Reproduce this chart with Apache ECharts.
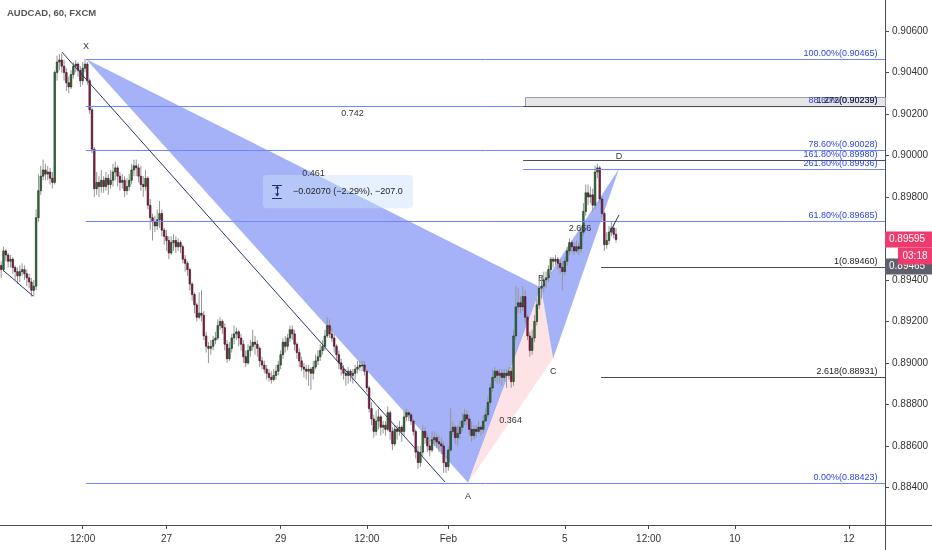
<!DOCTYPE html>
<html>
<head>
<meta charset="utf-8">
<script src="https://cdn.jsdelivr.net/npm/echarts@6/dist/echarts.min.js"></script>
<style>
  html, body { margin: 0; padding: 0; background: #fff; }
  #chart { width: 932px; height: 550px; }
</style>
</head>
<body>
<div id="chart"></div>
<script>
// AUDCAD 60 min candles, [open, close, low, high]
const candles = [
  [0.8947,0.8945,0.8941,0.8949],[0.8945,0.8954,0.8944,0.8956],[0.8954,0.8952,0.8949,0.8955],[0.8952,0.8949,0.8946,0.8953],
  [0.8949,0.8950,0.8946,0.8952],[0.8950,0.8946,0.8943,0.8951],[0.8946,0.8944,0.8940,0.8947],[0.8944,0.8942,0.8938,0.8946],
  [0.8942,0.8944,0.8939,0.8947],[0.8944,0.8945,0.8942,0.8948],[0.8945,0.8943,0.8940,0.8947],[0.8943,0.8941,0.8937,0.8945],
  [0.8941,0.8939,0.8936,0.8943],[0.8939,0.8935,0.8932,0.8941],[0.8935,0.8937,0.8932,0.8940],[0.8937,0.8970,0.8935,0.8974],
  [0.8970,0.8983,0.8968,0.8991],[0.8983,0.8990,0.8981,0.8995],[0.8990,0.8993,0.8988,0.8998],[0.8993,0.8991,0.8988,0.8996],
  [0.8991,0.8992,0.8988,0.8995],[0.8992,0.8989,0.8986,0.8994],[0.8989,0.8987,0.8984,0.8992],[0.8987,0.9040,0.8986,0.9041],
  [0.9040,0.9045,0.9036,0.9048],[0.9045,0.9046,0.9041,0.9049],[0.9046,0.9043,0.9040,0.9049],[0.9043,0.9040,0.9036,0.9046],
  [0.9040,0.9035,0.9031,0.9042],[0.9035,0.9033,0.9030,0.9038],[0.9033,0.9039,0.9032,0.9041],[0.9039,0.9043,0.9037,0.9045],
  [0.9043,0.9044,0.9040,0.9046],[0.9044,0.9041,0.9038,0.9045],[0.9041,0.9036,0.9033,0.9043],[0.9036,0.9042,0.9034,0.9045],
  [0.9042,0.9044,0.9040,0.90465],[0.9044,0.9036,0.9034,0.9045],[0.9036,0.9022,0.9020,0.9037],[0.9022,0.9003,0.9001,0.9023],
  [0.9003,0.8984,0.8980,0.9004],[0.8984,0.8987,0.8981,0.8992],[0.8987,0.8985,0.8980,0.8990],[0.8985,0.8988,0.8982,0.8993],
  [0.8988,0.8985,0.8982,0.8990],[0.8985,0.8989,0.8983,0.8992],[0.8989,0.8986,0.8981,0.8991],[0.8986,0.8988,0.8984,0.8993],
  [0.8988,0.8992,0.8985,0.8996],[0.8992,0.8994,0.8988,0.8997],[0.8994,0.8990,0.8985,0.8995],[0.8990,0.8987,0.8983,0.8992],
  [0.8987,0.8988,0.8984,0.8991],[0.8988,0.8983,0.8980,0.8990],[0.8983,0.8985,0.8981,0.8989],[0.8985,0.8988,0.8983,0.8991],
  [0.8988,0.8993,0.8986,0.8996],[0.8993,0.8995,0.8990,0.8998],[0.8995,0.8994,0.8990,0.8998],[0.8994,0.8990,0.8987,0.8996],
  [0.8990,0.8986,0.8983,0.8995],[0.8986,0.8985,0.8980,0.8990],[0.8985,0.8989,0.8983,0.8993],[0.8989,0.8976,0.8974,0.8990],
  [0.8976,0.8970,0.8964,0.8979],[0.8970,0.8968,0.8959,0.8972],[0.8968,0.8966,0.8963,0.8971],[0.8966,0.8969,0.8964,0.8974],
  [0.8969,0.8972,0.8965,0.8978],[0.8972,0.8964,0.8961,0.8974],[0.8964,0.8961,0.8957,0.8965],[0.8961,0.8959,0.8954,0.8964],
  [0.8959,0.8953,0.8950,0.8961],[0.8953,0.8958,0.8952,0.8961],[0.8958,0.8959,0.8954,0.8962],[0.8959,0.8956,0.8953,0.8961],
  [0.8956,0.8958,0.8954,0.8960],[0.8958,0.8956,0.8953,0.8959],[0.8956,0.8950,0.8948,0.8957],[0.8950,0.8948,0.8944,0.8952],
  [0.8948,0.8945,0.8942,0.8949],[0.8945,0.8938,0.8935,0.8946],[0.8938,0.8933,0.8930,0.8939],[0.8933,0.8928,0.8924,0.8934],
  [0.8928,0.8922,0.8920,0.8929],[0.8922,0.8924,0.8921,0.8934],[0.8924,0.8923,0.8920,0.8935],[0.8923,0.8913,0.8911,0.8925],
  [0.8913,0.8908,0.8905,0.8915],[0.8908,0.8907,0.8900,0.8910],[0.8907,0.8908,0.8904,0.8911],[0.8908,0.8911,0.8906,0.8913],
  [0.8911,0.8912,0.8909,0.8915],[0.8912,0.8918,0.8911,0.8921],[0.8918,0.8920,0.8916,0.8922],[0.8920,0.8917,0.8914,0.8921],
  [0.8917,0.8909,0.8906,0.8919],[0.8909,0.8902,0.8900,0.8911],[0.8902,0.8907,0.8901,0.8910],[0.8907,0.8912,0.8905,0.8914],
  [0.8912,0.8914,0.8909,0.8918],[0.8914,0.8915,0.8911,0.8917],[0.8915,0.8912,0.8908,0.8916],[0.8912,0.8909,0.8906,0.8914],
  [0.8909,0.8903,0.8900,0.8911],[0.8903,0.8900,0.8898,0.8906],[0.8900,0.8906,0.8899,0.8909],[0.8906,0.8908,0.8903,0.8911],
  [0.8908,0.8910,0.8906,0.8916],[0.8910,0.8909,0.8904,0.8913],[0.8909,0.8907,0.8903,0.8911],[0.8907,0.8901,0.8898,0.8908],
  [0.8901,0.8899,0.8897,0.8903],[0.8899,0.8897,0.8895,0.8901],[0.8897,0.8895,0.8892,0.8899],[0.8895,0.8893,0.8891,0.8897],
  [0.8893,0.8892,0.8890,0.8896],[0.8892,0.8894,0.8891,0.8897],[0.8894,0.8896,0.8892,0.8899],[0.8896,0.8899,0.8894,0.8901],
  [0.8899,0.8904,0.8897,0.8906],[0.8904,0.8910,0.8902,0.8912],[0.8910,0.8908,0.8905,0.8913],[0.8908,0.8912,0.8906,0.8914],
  [0.8912,0.8916,0.8910,0.8918],[0.8916,0.8914,0.8911,0.8918],[0.8914,0.8909,0.8906,0.8916],[0.8909,0.8905,0.8902,0.8910],
  [0.8905,0.8901,0.8898,0.8907],[0.8901,0.8898,0.8896,0.8903],[0.8898,0.8897,0.8893,0.8900],[0.8897,0.8896,0.8892,0.8899],
  [0.8896,0.8897,0.8889,0.8899],[0.8897,0.8895,0.8887,0.8898],[0.8895,0.8898,0.8892,0.8901],[0.8898,0.8901,0.8897,0.8904],
  [0.8901,0.8903,0.8899,0.8906],[0.8903,0.8906,0.8901,0.8909],[0.8906,0.8908,0.8904,0.8911],[0.8908,0.8913,0.8906,0.8916],
  [0.8913,0.8918,0.8912,0.8922],[0.8918,0.8914,0.8912,0.8921],[0.8914,0.8912,0.8910,0.8917],[0.8912,0.8908,0.8905,0.8914],
  [0.8908,0.8904,0.8901,0.8909],[0.8904,0.8900,0.8897,0.8906],[0.8900,0.8897,0.8894,0.8902],[0.8897,0.8895,0.8892,0.8899],
  [0.8895,0.8894,0.8889,0.8897],[0.8894,0.8896,0.8890,0.8898],[0.8896,0.8894,0.8891,0.8897],[0.8894,0.8895,0.8890,0.8897],
  [0.8895,0.8897,0.8892,0.8899],[0.8897,0.8898,0.8895,0.8901],[0.8898,0.8899,0.8896,0.8901],[0.8899,0.8899,0.8896,0.8901],
  [0.8899,0.8896,0.8894,0.8901],[0.8896,0.8888,0.8886,0.8897],[0.8888,0.8878,0.8876,0.8889],[0.8878,0.8873,0.8870,0.8881],
  [0.8873,0.8867,0.8864,0.8875],[0.8867,0.8872,0.8865,0.8877],[0.8872,0.8874,0.8868,0.8878],[0.8874,0.8869,0.8865,0.8875],
  [0.8869,0.8870,0.8866,0.8872],[0.8870,0.8868,0.8865,0.8872],[0.8868,0.8876,0.8867,0.8879],[0.8876,0.8867,0.8863,0.8877],
  [0.8867,0.8861,0.8858,0.8869],[0.8861,0.8868,0.8860,0.8870],[0.8868,0.8867,0.8863,0.8870],[0.8867,0.8869,0.8865,0.8872],
  [0.8869,0.8867,0.8862,0.8870],[0.8867,0.8874,0.8865,0.8877],[0.8874,0.8876,0.8872,0.8878],[0.8876,0.8875,0.8872,0.8877],
  [0.8875,0.8872,0.8870,0.8876],[0.8872,0.8867,0.8865,0.8873],[0.8867,0.8857,0.8854,0.8868],[0.8857,0.8852,0.8849,0.8860],
  [0.8852,0.8857,0.8850,0.8860],[0.8857,0.8867,0.8855,0.8870],[0.8867,0.8864,0.8861,0.8869],[0.8864,0.8860,0.8857,0.8866],
  [0.8860,0.8858,0.8855,0.8863],[0.8858,0.8863,0.8857,0.8867],[0.8863,0.8864,0.8860,0.8867],[0.8864,0.8862,0.8859,0.8866],
  [0.8862,0.8861,0.8857,0.8865],[0.8861,0.8860,0.8856,0.8864],[0.8860,0.8852,0.8847,0.8862],[0.8852,0.8850,0.8847,0.8855],
  [0.8850,0.8858,0.8848,0.8860],[0.8858,0.8867,0.8857,0.8878],[0.8867,0.8869,0.8865,0.8872],[0.8869,0.8864,0.8861,0.8870],
  [0.8864,0.8866,0.8860,0.8870],[0.8866,0.8869,0.8863,0.8872],[0.8869,0.8872,0.8867,0.8876],[0.8872,0.8875,0.8870,0.8878],
  [0.8875,0.8873,0.8870,0.8877],[0.8873,0.8868,0.8865,0.8875],[0.8868,0.8865,0.8862,0.8872],[0.8865,0.8868,0.8863,0.8870],
  [0.8868,0.8867,0.8864,0.8870],[0.8867,0.8869,0.8866,0.8872],[0.8869,0.8868,0.8865,0.8870],[0.8868,0.8872,0.8866,0.8875],
  [0.8872,0.8875,0.8872,0.8878],[0.8875,0.8881,0.8873,0.8884],[0.8881,0.8888,0.8879,0.8890],[0.8888,0.8893,0.8886,0.8897],
  [0.8893,0.8896,0.8891,0.8898],[0.8896,0.8894,0.8890,0.8897],[0.8894,0.8895,0.8890,0.8897],[0.8895,0.8893,0.8889,0.8897],
  [0.8893,0.8895,0.8891,0.8897],[0.8895,0.8894,0.8888,0.8897],[0.8894,0.8896,0.8892,0.8898],[0.8896,0.8891,0.8888,0.8898],
  [0.8891,0.8913,0.8889,0.8916],[0.8913,0.8927,0.8911,0.8937],[0.8927,0.8929,0.8924,0.8936],[0.8929,0.8927,0.8924,0.8932],
  [0.8927,0.8932,0.8925,0.8937],[0.8932,0.8922,0.8919,0.8935],[0.8922,0.8913,0.8911,0.8923],[0.8913,0.8906,0.8903,0.8915],
  [0.8906,0.8912,0.8904,0.8916],[0.8912,0.8920,0.8910,0.8923],[0.8920,0.8928,0.8918,0.8931],[0.8928,0.8936,0.8926,0.8940],
  [0.8936,0.8937,0.8931,0.8942],[0.8937,0.8940,0.8934,0.8944],[0.8940,0.8941,0.8936,0.8944],[0.8941,0.8945,0.8939,0.8947],
  [0.8945,0.8950,0.8943,0.8951],[0.8950,0.8949,0.8946,0.8951],[0.8949,0.8950,0.8947,0.8952],[0.8950,0.8948,0.8945,0.8951],
  [0.8948,0.8946,0.8943,0.8950],[0.8946,0.8944,0.8935,0.8949],[0.8944,0.8949,0.8942,0.8951],[0.8949,0.8954,0.8947,0.8956],
  [0.8954,0.8958,0.8952,0.8960],[0.8958,0.8956,0.8953,0.8959],[0.8956,0.8954,0.8952,0.8958],[0.8954,0.8956,0.8953,0.8959],
  [0.8956,0.8955,0.8952,0.8958],[0.8955,0.8963,0.8953,0.8966],[0.8963,0.8973,0.8961,0.8977],[0.8973,0.8982,0.8971,0.8986],
  [0.8982,0.8980,0.8976,0.8986],[0.8980,0.8981,0.8977,0.8985],[0.8981,0.8976,0.8973,0.8984],[0.8976,0.8992,0.8974,0.8995],
  [0.8992,0.8994,0.8989,0.8996],[0.8994,0.8979,0.8977,0.8995],[0.8979,0.8972,0.8968,0.8980],[0.8972,0.8957,0.8954,0.8973],
  [0.8957,0.8959,0.8955,0.8963],[0.8959,0.8963,0.8957,0.8966],[0.8963,0.8965,0.8961,0.8968],[0.8965,0.8962,0.8960,0.8967],
  [0.8962,0.89595,0.8958,0.8965]
];

// time axis: bar slots (incl. empty future area) and labelled slots
const barSlots = 380;
const xTickIdx = [35, 71, 120, 157, 192, 242, 278, 315, 364];
const xTickLabels = ['12:00', '27', '29', '12:00', 'Feb', '5', '12:00', '10', '12'];

// price axis
const yMin = 0.88219;
const yMax = 0.90749;
const yTicks = [0.884, 0.886, 0.888, 0.890, 0.892, 0.894, 0.896, 0.898, 0.900, 0.902, 0.904, 0.906];

// XABCD pattern points (bar index, price)
const patternNames = ['X', 'A', 'B', 'C', 'D'];
const patternIdx = [36.4, 200.5, 231.8, 237.0, 265.3];
const patternPrice = [0.90465, 0.88423, 0.89364, 0.89021, 0.89936];
const ratioPairs = [[0, 4], [0, 2], [1, 3], [2, 4]];
const ratioTexts = ['0.742', '0.461', '0.364', '2.656'];

// horizontal levels (fib retracement XA + extensions)
const levelPrices = [0.90465, 0.90239, 0.90028, 0.89685, 0.88423, 0.90239, 0.89980, 0.89936, 0.89460, 0.88931];
const levelTexts = ['100.00%(0.90465)', '88.60%(0.90239)', '78.60%(0.90028)', '61.80%(0.89685)', '0.00%(0.88423)',
  '1.272(0.90239)', '161.80%(0.89980)', '261.80%(0.89936)', '1(0.89460)', '2.618(0.88931)'];
const levelStart = [36.4, 36.4, 36.4, 36.4, 36.4, 224.1, 224.1, 224.1, 257.6, 257.6];
const zoneBox = [224.9, 0.90283, 0.90239];

// trend lines [idx1, price1, idx2, price2]
const trendLines = [
  [26.1, 0.90498, 190.6, 0.88426],
  [0.8, 0.89447, 13.7, 0.89322],
  [261.4, 0.89631, 265.3, 0.89713]
];

// price range measure
const measureBox = [112.4, 0.89906, 176.8, 0.89746];
const measureText = '\u22120.02070 (\u22122.29%), \u2212207.0';

const lastPrice = 0.89595;
const markPrice = 0.89465;
const countdown = '03:18';

// styles
const FONT = "'Liberation Sans', Arial, sans-serif";
const BLUE_FILL = '#a6b2f8';
const PINK_FILL = '#fde3e5';
const FIB_LINE = '#6e86ff';
const FIB_TEXT = '#2f45e8';
const DARK_LINE = '#4a4d57';
const levelLineColor = [FIB_LINE, FIB_LINE, FIB_LINE, FIB_LINE, FIB_LINE, DARK_LINE, DARK_LINE, FIB_LINE, DARK_LINE, DARK_LINE];
const levelTextColor = [FIB_TEXT, FIB_TEXT, FIB_TEXT, FIB_TEXT, FIB_TEXT, '#222', FIB_TEXT, FIB_TEXT, '#222', '#222'];
const labelRightIdx = 376.3;

const crisp = v => Math.round(v) + 0.5;

function txt(x, y, text, fill, size, align, valign, weight) {
  return {
    type: 'text', x, y,
    style: {
      text, fill, font: (weight || 'normal') + ' ' + size + 'px ' + FONT,
      textAlign: align, textVerticalAlign: valign, align, verticalAlign: valign
    }
  };
}

function renderPattern(params, api) {
  const pts = patternIdx.map((ix, j) => api.coord([ix, patternPrice[j]]));
  const tri = (a, b, c, fill) => ({ type: 'polygon', shape: { points: [pts[a], pts[b], pts[c]] }, style: { fill } });
  const children = [
    tri(0, 1, 2, BLUE_FILL),
    tri(1, 2, 3, PINK_FILL),
    tri(2, 3, 4, BLUE_FILL)
  ];
  const offs = [-12, 14, -9, 13, -12];
  pts.forEach((p, j) => children.push(txt(p[0], p[1] + offs[j], patternNames[j], '#333', 9, 'center', 'middle')));
  return { type: 'group', children };
}

function renderMeasure(params, api) {
  const a = api.coord([measureBox[0], measureBox[1]]);
  const b = api.coord([measureBox[2], measureBox[3]]);
  const midY = (a[1] + b[1]) / 2;
  const ic = api.coord([118.4, measureBox[1]])[0];
  const tx = api.coord([125.3, measureBox[1]])[0];
  const col = '#1f2f7a';
  return {
    type: 'group',
    children: [
      { type: 'rect', shape: { x: a[0], y: a[1], width: b[0] - a[0], height: b[1] - a[1], r: 4 },
        style: { fill: 'rgba(200,225,250,0.45)' } },
      { type: 'line', shape: { x1: ic - 5, y1: crisp(midY - 7), x2: ic + 5, y2: crisp(midY - 7) }, style: { stroke: col, lineWidth: 1 } },
      { type: 'line', shape: { x1: ic - 5, y1: crisp(midY + 6), x2: ic + 5, y2: crisp(midY + 6) }, style: { stroke: col, lineWidth: 1 } },
      { type: 'line', shape: { x1: crisp(ic), y1: midY - 5, x2: crisp(ic), y2: midY + 4 }, style: { stroke: col, lineWidth: 1 } },
      { type: 'polygon', shape: { points: [[ic - 2, midY - 3], [ic + 2.5, midY - 3], [ic + 0.25, midY - 6]] }, style: { fill: col } },
      { type: 'polygon', shape: { points: [[ic - 2, midY + 2], [ic + 2.5, midY + 2], [ic + 0.25, midY + 5]] }, style: { fill: col } },
      txt(tx, midY, measureText, '#222', 9, 'left', 'middle')
    ]
  };
}

function renderCandle(params, api) {
  const i = api.value(0);
  const o = api.coord([i, api.value(1)]);
  const c = api.coord([i, api.value(2)]);
  const l = api.coord([i, api.value(3)]);
  const h = api.coord([i, api.value(4)]);
  const bw = api.size([1, 0])[0] * 0.7;
  const up = api.value(2) >= api.value(1);
  const top = Math.min(o[1], c[1]);
  const hgt = Math.max(Math.abs(o[1] - c[1]), 1);
  return {
    type: 'group',
    children: [
      { type: 'line', shape: { x1: o[0], y1: h[1], x2: o[0], y2: l[1] }, style: { stroke: '#959595', lineWidth: 1 } },
      { type: 'rect', shape: { x: o[0] - bw / 2, y: top, width: bw, height: hgt },
        style: { fill: up ? '#2e7d32' : '#a3154b', stroke: '#111', lineWidth: 0.5 } }
    ]
  };
}

function renderLevels(params, api) {
  const children = [];
  const right = api.coord([barSlots - 0.5, yMin])[0];
  // grey zone box around 1.272
  const z1 = api.coord([zoneBox[0], zoneBox[1]]);
  const z2 = api.coord([zoneBox[0], zoneBox[2]]);
  children.push({ type: 'rect', shape: { x: crisp(z1[0]), y: crisp(z1[1]), width: right - z1[0], height: z2[1] - z1[1] },
    style: { fill: '#e6e6e8', stroke: '#9a9ca3', lineWidth: 1 } });
  levelPrices.forEach((p, k) => {
    const a = api.coord([levelStart[k], p]);
    const y = crisp(a[1]);
    children.push({ type: 'line', shape: { x1: a[0], y1: y, x2: right, y2: y },
      style: { stroke: levelLineColor[k], lineWidth: 1 } });
    const tx = api.coord([labelRightIdx, p])[0];
    children.push(txt(tx, y - 1.5, levelTexts[k], levelTextColor[k], 9, 'right', 'bottom'));
  });
  trendLines.forEach(t => {
    const a = api.coord([t[0], t[1]]);
    const b = api.coord([t[2], t[3]]);
    children.push({ type: 'line', shape: { x1: a[0], y1: a[1], x2: b[0], y2: b[1] },
      style: { stroke: '#2b3766', lineWidth: 1 } });
  });
  ratioPairs.forEach((pr, k) => {
    const ix = (patternIdx[pr[0]] + patternIdx[pr[1]]) / 2;
    const pv = (patternPrice[pr[0]] + patternPrice[pr[1]]) / 2;
    const p = api.coord([ix, pv]);
    children.push(txt(p[0], p[1], ratioTexts[k], '#333', 9, 'center', 'middle'));
  });
  return { type: 'group', children };
}

function renderTags(params, api) {
  const x = api.coord([barSlots - 0.5, yMin])[0];
  const w = 932 - x;
  const ym = api.coord([barSlots - 0.5, markPrice])[1];
  const yl = api.coord([barSlots - 0.5, lastPrice])[1];
  const pink = '#ee3a6c';
  return {
    type: 'group',
    children: [
      { type: 'rect', shape: { x, y: ym - 8, width: w, height: 16 }, style: { fill: '#5e616b' } },
      txt(x + 4, ym, markPrice.toFixed(5), '#fff', 10, 'left', 'middle'),
      { type: 'rect', shape: { x, y: yl - 8, width: w, height: 16 }, style: { fill: pink } },
      txt(x + 4, yl, lastPrice.toFixed(5), '#fff', 10, 'left', 'middle'),
      { type: 'rect', shape: { x: x + 13, y: yl + 8, width: w - 13, height: 17 }, style: { fill: pink } },
      txt(x + 13 + (w - 13) / 2, yl + 16.5, countdown, '#fff', 10, 'center', 'middle')
    ]
  };
}

const chart = echarts.init(document.getElementById('chart'), null, { renderer: 'canvas' });

const option = {
  animation: false,
  backgroundColor: '#fff',
  grid: { left: 0, right: 47, top: 0, bottom: 25 },
  xAxis: {
    type: 'value',
    min: -0.5,
    max: barSlots - 0.5,
    axisLine: { show: true, onZero: false, lineStyle: { color: '#4a4d57' } },
    axisTick: { show: true, length: 4, customValues: xTickIdx, lineStyle: { color: '#4a4d57' } },
    axisLabel: {
      customValues: xTickIdx,
      formatter: v => { const k = xTickIdx.indexOf(Math.round(v)); return k >= 0 ? xTickLabels[k] : ''; },
      color: '#333', fontSize: 10, fontFamily: FONT, margin: 9
    },
    splitLine: { show: false }
  },
  yAxis: {
    type: 'value',
    position: 'right',
    min: yMin,
    max: yMax,
    axisLine: { show: true, onZero: false, lineStyle: { color: '#4a4d57' } },
    axisTick: { show: true, length: 4, customValues: yTicks, lineStyle: { color: '#4a4d57' } },
    axisLabel: {
      customValues: yTicks,
      formatter: v => v.toFixed(5),
      color: '#333', fontSize: 10, fontFamily: FONT, margin: 7
    },
    splitLine: { show: false }
  },
  graphic: [
    { type: 'text', left: 7, top: 8, style: { text: 'AUDCAD, 60, FXCM', fill: '#555', font: 'bold 9.5px ' + FONT } },
    { type: 'line', shape: { x1: 885, y1: 525.5, x2: 932, y2: 525.5 }, style: { stroke: '#4a4d57', lineWidth: 1 } },
    { type: 'line', shape: { x1: 885.5, y1: 525, x2: 885.5, y2: 550 }, style: { stroke: '#4a4d57', lineWidth: 1 } }
  ],
  series: [
    { type: 'custom', name: 'pattern', z: 1, silent: true, data: [[0, yMin]], renderItem: renderPattern },
    { type: 'custom', name: 'measure', z: 2, silent: true, data: [[0, yMin]], renderItem: renderMeasure },
    {
      type: 'custom', name: 'AUDCAD', z: 3,
      data: candles.map((d, i) => [i, d[0], d[1], d[2], d[3]]),
      encode: { x: 0, y: [1, 2, 3, 4] },
      renderItem: renderCandle
    },
    { type: 'custom', name: 'levels', z: 4, silent: true, data: [[0, yMin]], renderItem: renderLevels },
    { type: 'custom', name: 'tags', z: 6, silent: true, clip: false, data: [[0, yMin]], renderItem: renderTags }
  ]
};

chart.setOption(option);
window.addEventListener('resize', () => chart.resize());
</script>
</body>
</html>
